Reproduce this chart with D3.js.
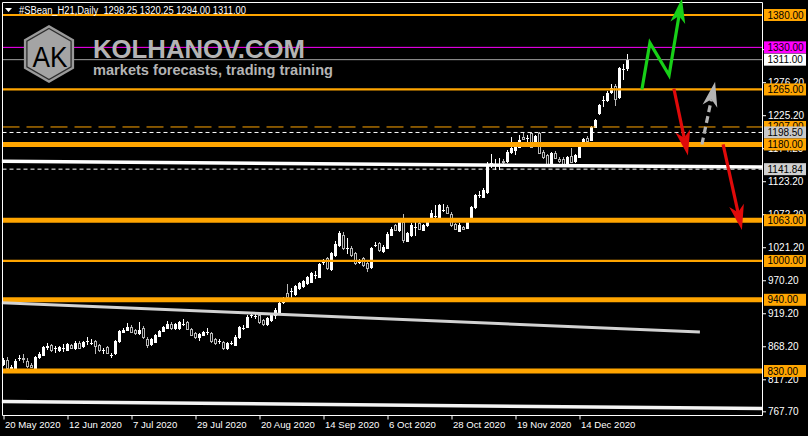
<!DOCTYPE html>
<html><head><meta charset="utf-8">
<script src="https://cdn.jsdelivr.net/npm/d3@7"></script>
<style>
html,body{margin:0;padding:0;background:#000;}
svg{display:block;}
text{font-family:"Liberation Sans",Arial,sans-serif;}
</style></head><body>
<svg id="c" width="808" height="436"></svg>
<script>
// ---- data ----
const symbol = "#SBean_H21,Daily";
const opens = [841,847,835,835,850,850,846,840,835,851,
855,867,870,865,863,866,863,870,866,874,
868,876,874,876,870,862,867,855,858,876,
890,894,898,893,888,896,880,872,875,884,
892,897,902,896,896,902,905,895,888,883,
886,891,889,879,876,875,866,874,870,882,
897,898,916,915,916,909,903,909,917,921,
936,950,953,949,958,961,966,968,978,975,
998,1004,988,1009,1025,1040,1020,1020,1012,999,
1004,997,990,1025,1028,1016,1020,1040,1055,1048,
1060,1031,1040,1053,1059,1048,1055,1066,1070,1068,
1079,1083,1073,1057,1047,1052,1051,1066,1083,1102,
1099,1107,1150,1148,1150,1155,1155,1168,1172,1176,
1192,1190,1198,1184,1197,1169,1163,1151,1167,1157,
1158,1152,1162,1154,1161,1180,1190,1187,1207,1229,
1249,1249,1261,1271,1253,1296,1298.25];
const highs = [850,851,839,849,855,856,850,843,853,859,
869,874,872,868,869,872,873,872,876,877,
877,882,879,878,872,866,869,858,878,893,
896,904,901,895,905,899,882,881,887,894,
900,907,905,904,907,911,907,897,890,889,
892,896,891,881,880,877,875,877,885,900,
901,916,920,919,918,911,914,919,927,937,
945,965,958,963,968,971,977,983,984,997,
1003,1006,1014,1031,1046,1045,1035,1023,1014,1003,
1006,999,1022,1030,1030,1024,1044,1052,1057,1062,
1072,1045,1058,1061,1062,1057,1062,1078,1086,1088,
1088,1086,1075,1059,1058,1054,1062,1085,1104,1108,
1112,1153,1165,1157,1159,1157,1171,1191,1178,1195,
1197,1195,1200,1195,1199,1172,1165,1169,1170,1160,
1161,1162,1175,1165,1178,1190,1193,1209,1220,1243,
1255,1262,1273,1274,1300,1305,1320.25];
const lows = [837,833,831,832,845,842,834,834,831,849,
853,862,859,858,860,860,861,864,863,864,
866,870,870,856,860,857,856,850,855,874,
888,892,889,886,886,880,866,869,873,882,
890,895,894,893,894,899,893,884,880,876,
884,886,874,870,872,863,862,870,868,880,
893,896,912,911,902,900,900,905,911,919,
934,943,940,946,955,958,963,966,972,973,
993,986,985,1006,1022,1017,1010,1006,994,995,
991,983,988,1021,1014,1012,1018,1038,1046,1045,
1028,1029,1037,1038,1048,1046,1053,1062,1062,1066,
1075,1072,1053,1048,1045,1048,1049,1064,1081,1097,
1097,1104,1143,1140,1140,1150,1152,1166,1164,1174,
1187,1178,1174,1182,1165,1158,1146,1149,1157,1151,
1147,1150,1151,1152,1159,1178,1183,1185,1205,1226,
1238,1246,1258,1240,1250,1280,1294];
const closes = [847,835,836,846,850,849,837,836,851,857,
867,868,862,865,867,866,872,866,874,866,
875,876,874,868,862,862,858,855,876,892,
893,898,891,888,894,882,870,879,885,892,
898,902,896,902,906,902,895,886,883,887,
890,891,876,873,876,866,873,874,883,898,
897,914,916,915,905,902,912,917,925,935,
943,945,953,961,966,969,975,981,978,995,
998,989,1012,1026,1043,1020,1020,1009,997,999,
994,989,1020,1025,1017,1022,1042,1050,1048,1060,
1033,1043,1056,1053,1050,1055,1060,1074,1070,1086,
1079,1074,1055,1050,1056,1050,1060,1083,1102,1102,
1110,1150,1151,1148,1150,1153,1168,1175,1176,1187,
1189,1190,1176,1193,1167,1160,1148,1167,1159,1155,
1149,1160,1153,1163,1176,1188,1185,1207,1218,1241,
1249,1260,1267,1250,1298,1296,1311];

const dateLabels = ["20 May 2020","12 Jun 2020","7 Jul 2020","29 Jul 2020","20 Aug 2020",
                    "14 Sep 2020","6 Oct 2020","28 Oct 2020","19 Nov 2020","14 Dec 2020"];
const dateTickBars = [0,16,32,48,64,80,96,112,128,144];
const priceTicks = [767.7,817.2,868.2,919.2,970.2,1021.2,1072.2,1123.2,1174.2,1225.2,1276.2,1327.2];

const orangeLevels = [1380,1265,1180,1063,1000,940,830];
const orangeThick = [false,false,true,true,false,true,true];
const magentaLevel = 1330;
const currentPrice = 1311;
const orangeDashedLevel = 1207;
const whiteDashedLevel = 1198.5;
const supportDashedLevel = 1141.84;

// trendlines: [barIndex, price]
const whiteTrend = [[-0.4,1154],[189.75,1145]];
const greyTrend = [[-0.4,935.5],[174.1,890.3]];
const bottomTrend = [[-0.4,782.9],[189.75,772.1]];

// scenario arrows: [barIndex, price]
const greenPath = [[159.6,1265],[161.6,1337],[166.4,1287],[169.6,1406]];
const redPath1 = [[167.6,1266],[171.1,1163]];
const redPath2 = [[179.9,1180],[184.6,1048]];
const greyPath = [[174.6,1180],[177.9,1277]];

// ---- drawing ----
const svg = d3.select("#c");
const L = 2.5, R = 762.5, T = 2.5, B = 415.5;
const x = d3.scaleLinear().domain([0,190]).range([3.5,763.5]);
const y = d3.scaleLinear().domain([830,1380]).range([371,15]);

svg.append("rect").attr("width",808).attr("height",436).attr("fill","#000");

// candles
const candles = d3.range(closes.length).map(i => ({i, o:opens[i], h:Math.max(highs[i],opens[i],closes[i]), l:Math.min(lows[i],opens[i],closes[i]), c:closes[i]}));
const gC = svg.append("g");
candles.forEach(d => {
  const up = d.c >= d.o;
  const col = up ? "#ffffff" : "#b8b8b8";
  const cx = x(d.i);
  gC.append("line").attr("x1",cx).attr("x2",cx).attr("y1",Math.round(y(d.h))).attr("y2",Math.round(y(d.l)))
    .attr("stroke",col).attr("stroke-width",1);
  const yt = Math.round(y(Math.max(d.o,d.c))) + 0.5;
  const yb = Math.round(y(Math.min(d.o,d.c))) + 0.5;
  if (yb - yt < 1) {
    gC.append("line").attr("x1",cx-1.5).attr("x2",cx+1.5).attr("y1",yt).attr("y2",yt).attr("stroke",col);
  } else {
    gC.append("rect").attr("x",cx-1).attr("width",2).attr("y",yt).attr("height",yb-yt)
      .attr("fill", up ? "#ffffff" : "#000").attr("stroke",col).attr("stroke-width",1);
  }
});

// horizontal levels
const gL = svg.append("g");
function hline(p, color, width, dash){
  const yy = y(p);
  gL.append("line").attr("x1",L).attr("x2",R).attr("y1",yy).attr("y2",yy)
    .attr("stroke",color).attr("stroke-width",width).attr("stroke-dasharray",dash||null);
}
hline(magentaLevel, "#ff00ff", 1);
hline(currentPrice, "#a0a0a0", 1);
hline(orangeDashedLevel, "#ffa500", 1, "17,7");
hline(whiteDashedLevel, "#ffffff", 1, "4,3");
hline(supportDashedLevel, "#ffffff", 1, "4,3");
orangeLevels.forEach((p,k) => hline(p, "#ffa500", orangeThick[k] ? 5 : 2.2));

// trendlines
const line = d3.line().x(d => x(d[0])).y(d => y(d[1]));
svg.append("path").attr("d",line(greyTrend)).attr("stroke","#d2d2d2").attr("stroke-width",3).attr("fill","none");
svg.append("path").attr("d",line(whiteTrend)).attr("stroke","#ffffff").attr("stroke-width",3.5).attr("fill","none");
svg.append("path").attr("d",line(bottomTrend)).attr("stroke","#f4f4f4").attr("stroke-width",3.5).attr("fill","none");

// frame
svg.append("path").attr("d",`M${L},${T}H${R}V${B}H${L}Z`).attr("fill","none").attr("stroke","#fff").attr("stroke-width",1);

// axes
const yAxis = d3.axisRight(y).tickValues(priceTicks).tickFormat(d3.format(".2f")).tickSize(3.5).tickPadding(2);
const gy = svg.append("g").attr("transform",`translate(${R},0)`).call(yAxis);
gy.select(".domain").remove();
gy.selectAll(".tick line").attr("stroke","#fff");
gy.selectAll(".tick text").attr("fill","#fff").attr("font-size",10).attr("x",5.5).attr("dy","0.34em")
  .style("font-family","'Liberation Sans',Arial,sans-serif");

const xAxis = d3.axisBottom(x).tickValues(dateTickBars).tickFormat((d,k) => dateLabels[k]).tickSize(4);
const gx = svg.append("g").attr("transform",`translate(0,${B})`).call(xAxis);
gx.select(".domain").remove();
gx.selectAll(".tick line").attr("stroke","#fff");
gx.selectAll(".tick text").attr("fill","#fff").attr("font-size",9.6).attr("text-anchor","start")
  .attr("x",1).attr("y",12.8).attr("dy",null).style("font-family","'Liberation Sans',Arial,sans-serif");

// price label boxes
const gB = svg.append("g");
function box(p, bg){
  const yy = y(p);
  gB.append("rect").attr("x",764).attr("y",yy-6).attr("width",42).attr("height",12).attr("fill",bg);
  gB.append("text").attr("x",767.5).attr("y",yy).attr("dy","0.35em").attr("font-size",10).attr("fill","#000").text(p.toFixed(2));
}
box(orangeDashedLevel, "#ffa500");
box(whiteDashedLevel, "#c8c8c8");
box(supportDashedLevel, "#d0d0d0");
box(magentaLevel, "#ff00ff");
box(currentPrice, "#ffffff");
orangeLevels.forEach(p => box(p, "#ffa500"));

// arrows
function arrow(pts, color, dash){
  const px = pts.map(d => [x(d[0]), y(d[1])]);
  const n = px.length;
  const tip = px[n-1], prev = px[n-2];
  const dx = tip[0]-prev[0], dy = tip[1]-prev[1], len = Math.hypot(dx,dy);
  const ux = dx/len, uy = dy/len, nx = -uy, ny = ux;
  const HL = 25, HW = 7.5, notch = 7;
  const base = [tip[0]-ux*(HL-notch), tip[1]-uy*(HL-notch)];
  const shaft = px.slice(0,n-1).concat([base]);
  svg.append("path").attr("d", d3.line()(shaft)).attr("fill","none").attr("stroke",color)
    .attr("stroke-width",3.2).attr("stroke-linejoin","miter").attr("stroke-dasharray",dash||null);
  const head = [tip, [tip[0]-ux*HL+nx*HW, tip[1]-uy*HL+ny*HW], base, [tip[0]-ux*HL-nx*HW, tip[1]-uy*HL-ny*HW]];
  svg.append("path").attr("d", d3.line()(head)+"Z").attr("fill",color);
}
arrow(greenPath, "#18d018");
arrow(redPath1, "#e00a0a");
arrow(redPath2, "#e00a0a");
arrow(greyPath, "#b4b4b4", "7,4");

// header
svg.append("path").attr("d","M5,8L12,8L8.5,12Z").attr("fill","#fff");
svg.append("text").attr("x",19).attr("y",13.5).attr("font-size",10).attr("fill","#fff").style("white-space","pre")
  .attr("textLength",227).attr("lengthAdjust","spacingAndGlyphs")
  .text(`${symbol}  ${opens[156].toFixed(2)} ${highs[156].toFixed(2)} ${lows[156].toFixed(2)} ${closes[156].toFixed(2)}`);

// logo
const hex = (cx,cy,r) => d3.range(6).map(k => { const a = Math.PI/180*(60*k-90); return [cx+r*Math.cos(a), cy+r*Math.sin(a)]; });
const gLogo = svg.append("g");
gLogo.append("path").attr("d", d3.line()(hex(49,54,29))+"Z").attr("fill","#9a9a9a");
gLogo.append("path").attr("d", d3.line()(hex(49,54,25.5))+"Z").attr("fill","#a4a4a4").attr("stroke","#2e2e2e").attr("stroke-width",1.3);
gLogo.append("text").attr("x",50).attr("y",66.5).attr("text-anchor","middle").attr("font-size",29)
  .attr("fill","#000").attr("textLength",35).attr("lengthAdjust","spacingAndGlyphs").text("AK");
gLogo.append("text").attr("x",93).attr("y",57.5).attr("font-size",25).attr("font-weight","bold")
  .attr("fill","#b4b4b4").attr("textLength",212).attr("lengthAdjust","spacingAndGlyphs").text("KOLHANOV.COM");
gLogo.append("text").attr("x",93).attr("y",74.5).attr("font-size",14.5).attr("font-weight","bold")
  .attr("fill","#b4b4b4").attr("textLength",240).attr("lengthAdjust","spacingAndGlyphs").text("markets forecasts, trading training");
</script>
</body></html>
